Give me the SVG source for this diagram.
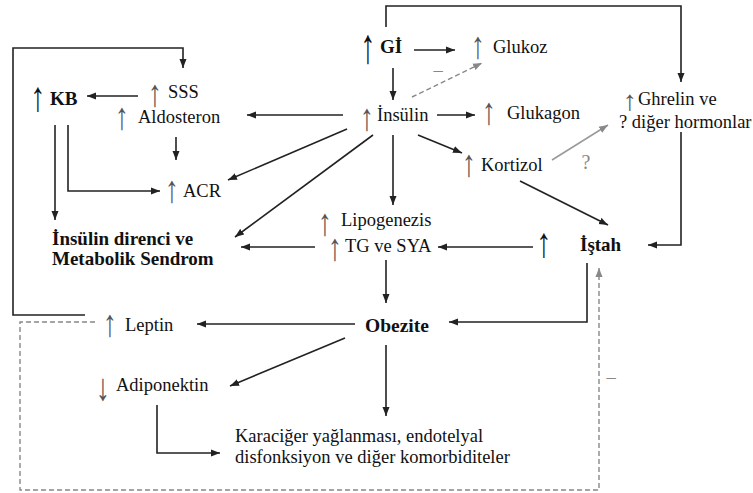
<svg xmlns="http://www.w3.org/2000/svg" width="753" height="493" viewBox="0 0 753 493">
<defs>
<style>
text{font-family:"Liberation Serif","Times New Roman",serif;font-size:18.5px;fill:#111}
.b{font-weight:bold;font-size:19px}
.ar{text-anchor:middle;fill:#555;font-size:28px}
.ab{text-anchor:middle;font-weight:bold;font-size:30px;fill:#111}
.g{fill:#888}
.c path{fill:none;stroke:#222;stroke-width:1.6}
.c path.a{marker-end:url(#ah)}
.c path.gr{stroke:#999;stroke-width:1.5}
.c path.d{stroke:#888;stroke-width:1.4;stroke-dasharray:5 3}
.c path.ga{marker-end:url(#ahg)}
</style>
<marker id="ah" markerUnits="userSpaceOnUse" markerWidth="10" markerHeight="8" refX="9" refY="4" orient="auto"><path d="M0,0.5 L9,4 L0,7.5 Z" fill="#222"/></marker>
<marker id="ahg" markerUnits="userSpaceOnUse" markerWidth="10" markerHeight="8" refX="9" refY="4" orient="auto"><path d="M0,0.5 L9,4 L0,7.5 Z" fill="#888"/></marker>
</defs>
<rect width="753" height="493" fill="#fff"/>
<g id="connectors" class="c">
<path class="a" d="M386,27 V6 H681 V82"/>
<path class="a" d="M414,50 H455"/>
<path class="a" d="M393,68 V100"/>
<path class="d ga" d="M412,97 L482,63"/>
<path class="a" d="M437,115 H475"/>
<path class="a" d="M343,115 H247"/>
<path class="a" d="M347,129 L228,180"/>
<path class="a" d="M373,135 L235,237"/>
<path class="a" d="M393,135 V205"/>
<path class="a" d="M418,135 L462,153"/>
<path class="gr ga" d="M552,160 L608,125"/>
<path class="a" d="M520,181 L608,225"/>
<path class="a" d="M681,132 V245 H648"/>
<path class="a" d="M533,247 H438"/>
<path class="a" d="M315,247 H241"/>
<path class="a" d="M386,260 V303"/>
<path class="a" d="M587,263 V322 H449"/>
<path class="a" d="M355,324 H197"/>
<path class="a" d="M345,338 L230,386"/>
<path class="a" d="M386,345 V416"/>
<path class="a" d="M157,405 V453 H220"/>
<path class="a" d="M85,315 H13 V48 H183 V68"/>
<path class="a" d="M138,96 H87"/>
<path class="a" d="M176,137 V160"/>
<path class="a" d="M55,125 V220"/>
<path class="a" d="M68,125 V191 H160"/>
<path class="d ga" d="M95,322 H20 V490 H599 V268"/>
<text class="g" x="438" y="76" text-anchor="middle">–</text>
<text class="g" x="611" y="383" text-anchor="middle">–</text>
<text class="g" x="586" y="169" text-anchor="middle" style="font-size:20px">?</text>
</g>
<g id="gi"><text class="ab" transform="translate(368,62.5) scale(1,1.65)">↑</text><text class="b" x="380" y="53">Gİ</text></g>
<g id="glukoz"><text class="ar" transform="translate(478,57.6) scale(1,1.35)">↑</text><text x="493" y="53">Glukoz</text></g>
<g id="insulin"><text class="ar" transform="translate(367,129.6) scale(1,1.35)">↑</text><text x="377" y="121">İnsülin</text></g>
<g id="glukagon"><text class="ar" transform="translate(489,123.6) scale(1,1.35)">↑</text><text x="507" y="119">Glukagon</text></g>
<g id="kortizol"><text class="ar" transform="translate(469,175.6) scale(1,1.35)">↑</text><text x="481" y="171">Kortizol</text></g>
<g id="ghrelin"><text class="ar" transform="translate(630,110) scale(1,1.0)">↑</text><text x="638" y="105">Ghrelin ve</text><text x="619" y="128">? diğer hormonlar</text></g>
<g id="sss"><text class="ar" transform="translate(155,105.6) scale(1,1.35)">↑</text><text x="168" y="98">SSS</text></g>
<g id="aldosteron"><text class="ar" transform="translate(122,128.6) scale(1,1.35)">↑</text><text x="138" y="123">Aldosteron</text></g>
<g id="kb"><text class="ab" transform="translate(38,111) scale(1,1.4)">↑</text><text class="b" x="50" y="105">KB</text></g>
<g id="acr"><text class="ar" transform="translate(172,201.6) scale(1,1.35)">↑</text><text x="183" y="197">ACR</text></g>
<g id="direnc"><text class="b" x="52" y="245">İnsülin direnci ve</text><text class="b" x="52" y="265">Metabolik Sendrom</text></g>
<g id="lipogenezis"><text class="ar" transform="translate(325,234.6) scale(1,1.35)">↑</text><text x="341" y="226">Lipogenezis</text><text class="ar" transform="translate(335,259.6) scale(1,1.35)">↑</text><text x="345" y="252">TG ve SYA</text></g>
<g id="istah-up"><text class="ab" transform="translate(544,257) scale(1,1.4)">↑</text></g>
<g id="istah"><text class="b" x="580" y="251">İştah</text></g>
<g id="obezite"><text class="b" x="365" y="332" style="font-size:19.5px">Obezite</text></g>
<g id="leptin"><text class="ar" transform="translate(110,335.6) scale(1,1.35)">↑</text><text x="125" y="331">Leptin</text></g>
<g id="adiponektin"><text class="ar" transform="translate(103,399.6) scale(1,1.35)">↓</text><text x="116" y="391">Adiponektin</text></g>
<g id="karaciger"><text x="235" y="442">Karaciğer yağlanması, endotelyal</text><text x="235" y="463">disfonksiyon ve diğer komorbiditeler</text></g>
</svg>
